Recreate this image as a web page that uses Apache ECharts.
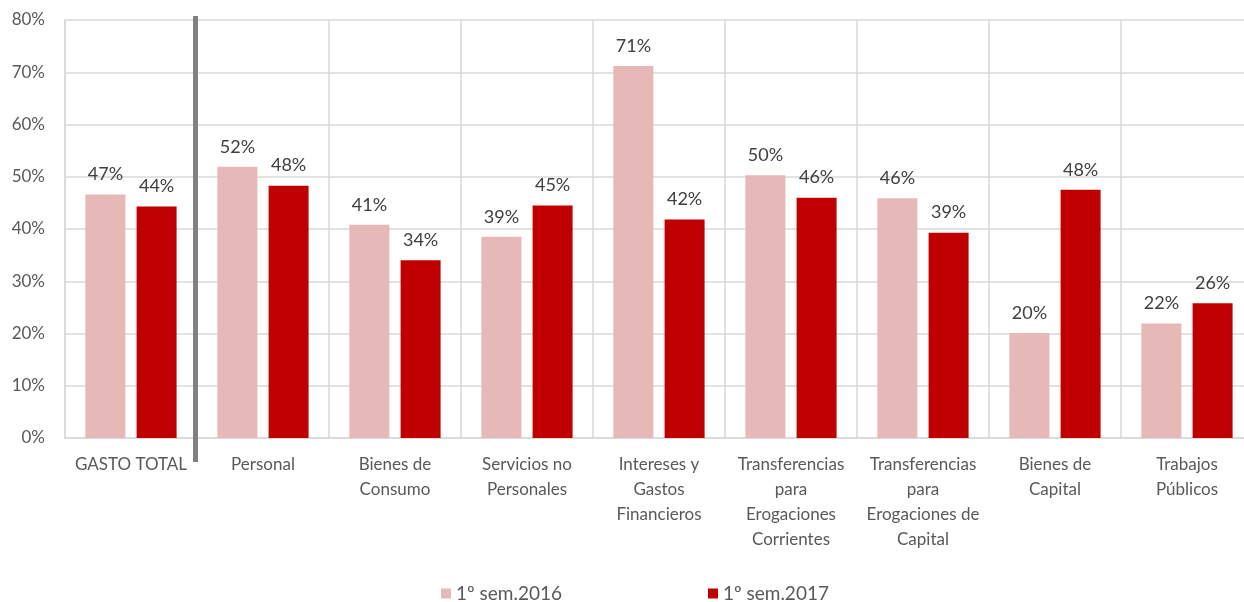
<!DOCTYPE html>
<html>
<head>
<meta charset="utf-8">
<script src="https://cdn.jsdelivr.net/npm/echarts@6/dist/echarts.min.js"></script>
<style>
html,body{margin:0;padding:0;background:#fff;}
#chart{width:1244px;height:602px;}
</style>
</head>
<body>
<div id="chart"></div>
<script>
var categories = [
  'GASTO TOTAL',
  'Personal',
  'Bienes de\nConsumo',
  'Servicios no\nPersonales',
  'Intereses y\nGastos\nFinancieros',
  'Transferencias\npara\nErogaciones\nCorrientes',
  'Transferencias\npara\nErogaciones de\nCapital',
  'Bienes de\nCapital',
  'Trabajos\nPúblicos'
];
var seriesNames = ['1º sem.2016', '1º sem.2017'];
var sem2016 = [46.6, 51.9, 40.8, 38.5, 71.2, 50.3, 45.9, 20.1, 21.9];
var sem2017 = [44.3, 48.3, 34.0, 44.5, 41.8, 46.0, 39.3, 47.5, 25.8];
var yTicks = [0, 10, 20, 30, 40, 50, 60, 70, 80];

var FONT = 'Lato';
var chart = echarts.init(document.getElementById('chart'), null, {renderer: 'canvas'});

function labelCfg() {
  return {
    show: true,
    position: 'top',
    distance: 11,
    fontFamily: FONT,
    fontSize: 18,
    color: '#404040',
    formatter: function (p) { return Math.round(p.value) + '%'; }
  };
}

var option = {
  animation: false,
  backgroundColor: '#ffffff',
  textStyle: {fontFamily: FONT},
  grid: {left: 65, width: 1188, top: 20, bottom: 164, containLabel: false, outerBoundsMode: 'none'},
  legend: {
    data: seriesNames,
    bottom: -6,
    left: 436,
    icon: 'rect',
    itemWidth: 10,
    itemHeight: 10,
    itemGap: 146,
    textStyle: {fontFamily: FONT, fontSize: 19, color: '#595959'}
  },
  xAxis: {
    type: 'category',
    data: categories,
    boundaryGap: true,
    axisLine: {show: true, lineStyle: {color: '#d9d9d9', width: 1.5}},
    axisTick: {show: false},
    splitLine: {show: true, interval: 0, lineStyle: {color: '#d9d9d9', width: 1.5}},
    axisLabel: {
      interval: 0,
      margin: 14,
      fontFamily: FONT,
      fontSize: 17,
      lineHeight: 25,
      color: '#595959',
      verticalAlign: 'top'
    }
  },
  yAxis: {
    type: 'value',
    min: yTicks[0],
    max: yTicks[yTicks.length - 1],
    interval: 10,
    axisLine: {show: true, lineStyle: {color: '#d9d9d9', width: 1.5}},
    axisTick: {show: false},
    splitLine: {show: true, lineStyle: {color: '#d9d9d9', width: 1.5}},
    axisLabel: {
      margin: 20,
      fontFamily: FONT,
      fontSize: 17,
      color: '#595959',
      formatter: '{value}%'
    }
  },
  series: [
    {
      name: seriesNames[0],
      type: 'bar',
      data: sem2016,
      barWidth: 40,
      barGap: '28%',
      itemStyle: {color: '#E6B8B7'},
      label: labelCfg()
    },
    {
      name: seriesNames[1],
      type: 'bar',
      data: sem2017,
      barWidth: 40,
      barGap: '28%',
      itemStyle: {color: '#C00000'},
      label: labelCfg()
    }
  ]
};
chart.setOption(option);

// thick separator between GASTO TOTAL and the detailed categories
var x0 = chart.convertToPixel({xAxisIndex: 0}, 0);
var x1 = chart.convertToPixel({xAxisIndex: 0}, 1);
var sepX = (x0 + x1) / 2 - 1.5;
var yTop = chart.convertToPixel({yAxisIndex: 0}, yTicks[yTicks.length - 1]) - 4;
var yBot = chart.convertToPixel({yAxisIndex: 0}, yTicks[0]) + 24;
chart.setOption({
  graphic: [{
    type: 'line',
    shape: {x1: sepX, y1: yTop, x2: sepX, y2: yBot},
    style: {stroke: '#808080', lineWidth: 5},
    z: 100
  }]
});
</script>
</body>
</html>
